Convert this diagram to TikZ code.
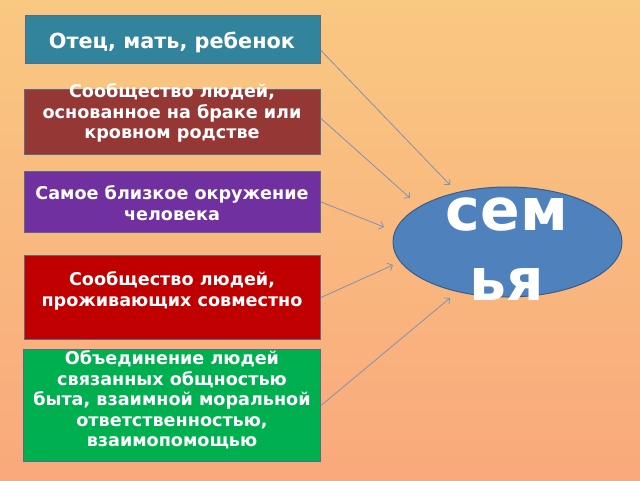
\documentclass[tikz,border=0pt]{standalone}
\usepackage{fontspec}
\setmainfont{DejaVu Sans}
\usetikzlibrary{arrows.meta,shapes.geometric,calc}
\definecolor{bgtop}{HTML}{F9C881}
\definecolor{bgbot}{HTML}{F9A97C}
\definecolor{cteal}{HTML}{31849B}
\definecolor{cbrown}{HTML}{953735}
\definecolor{cpurple}{HTML}{7030A0}
\definecolor{cred}{HTML}{C00000}
\definecolor{cgreen}{HTML}{00B050}
\definecolor{cblue}{HTML}{4F81BD}
\definecolor{cblueline}{HTML}{385D8A}
\definecolor{boxline}{HTML}{5A6A86}
\definecolor{arrowc}{HTML}{7F93B0}
\begin{document}
\begin{tikzpicture}[x=1pt,y=-1pt,
  box/.style={draw=boxline,line width=1pt,anchor=north west,inner sep=0pt,minimum width=#1},
  boxtext/.style={text=white,align=center,font=\bfseries\fontsize{17.6}{20.5}\selectfont,inner sep=0pt},
  conn/.style={draw=arrowc,line width=0.8pt,-{Straight Barb[length=4pt,width=8pt]}}]
\fill[top color=bgtop,bottom color=bgbot] (0,0) rectangle (640,480);
\useasboundingbox (0,0) rectangle (640,480);

\node[box=295pt,minimum height=48pt,fill=cteal] (b1) at (25,15) {};
\node[box=296pt,minimum height=65pt,fill=cbrown] (b2) at (24,89) {};
\node[box=296pt,minimum height=61pt,fill=cpurple] (b3) at (24,171) {};
\node[box=296pt,minimum height=84pt,fill=cred] (b4) at (24,255) {};
\node[box=297pt,minimum height=112pt,fill=cgreen] (b5) at (23,349) {};

\node[boxtext,font=\bfseries\fontsize{20.8}{24}\selectfont] (t1) at (172,42) {Отец, мать, ребенок};
\node[boxtext] (t2) at (172,113) {Сообщество людей,\\основанное на браке или\\кровном родстве};
\node[boxtext] (t3) at (172,203) {Самое близкое окружение\\человека};
\node[boxtext] (t4) at (172,291) {Сообщество людей,\\проживающих совместно};
\node[boxtext] (t5) at (172,400) {Объединение людей\\связанных общностью\\быта, взаимной моральной\\ответственностью,\\взаимопомощью};

\node[ellipse,fill=cblue,draw=cblueline,line width=1pt,minimum width=229pt,minimum height=110pt,inner sep=0pt] (fam) at (507.5,242) {};
\node[text=white,align=center,inner sep=0pt,font=\bfseries\fontsize{58.5}{70}\selectfont] (famtext) at (507,249.5) {сем\\ья};

\coordinate (e1) at (450,185);
\coordinate (e2) at (410,198);
\coordinate (e3) at (384,227);
\coordinate (e4) at (393,265);
\coordinate (e5) at (450,298);

\draw[conn] ([yshift=-11pt]b1.east) -- (e1);
\draw[conn] ([yshift=3.5pt]b2.east) -- (e2);
\draw[conn] (b3.east) -- (e3);
\draw[conn] (b4.east) -- (e4);
\draw[conn] (b5.east) -- (e5);
\end{tikzpicture}
\end{document}
